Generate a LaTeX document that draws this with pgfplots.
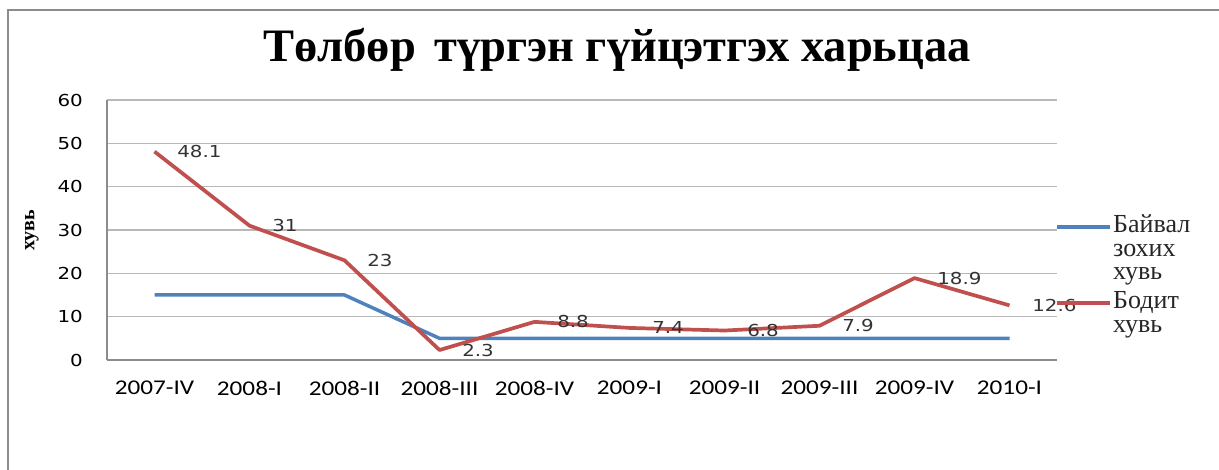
\documentclass[border=0pt]{standalone}
\usepackage{fontspec}
\setmainfont{Liberation Serif}
\newfontfamily\dvfont[FakeStretch=1.2]{DejaVu Sans}
\newfontfamily\calfont[FakeStretch=1.2]{Carlito}
\usepackage{pgfplots}
\pgfplotsset{compat=1.18}
\definecolor{sblue}{HTML}{4F81BD}
\definecolor{sred}{HTML}{C0504D}
\begin{document}
\begin{tikzpicture}[x=1pt,y=1pt]
\useasboundingbox (0,0) rectangle (1219,470);
\draw[black!45, line width=2pt] (8,-5) -- (8,460) -- (1225,460);
\node[font=\fontsize{46.5}{50}\selectfont\bfseries, anchor=base, inner sep=0pt] at (617,408) {Төлбөр\hspace{0.4em}түргэн гүйцэтгэх харьцаа};
\begin{axis}[at={(107pt,110pt)}, anchor=south west, scale only axis,
  width=950pt, height=260pt,
  xmin=-0.5, xmax=9.5, ymin=0, ymax=60,
  ytick={0,10,...,60}, xtick={0,...,9},
  xticklabels={2007-IV,2008-I,2008-II,2008-III,2008-IV,2009-I,2009-II,2009-III,2009-IV,2010-I},
  axis x line*=bottom, axis y line*=left,
  axis line style={black!45, line width=1.2pt},
  ymajorgrids, grid style={black!28, line width=1.2pt},
  major tick length=0pt,
  /pgf/number format/assume math mode=true,
  yticklabel style={font=\dvfont\fontsize{16.5}{18}\selectfont, anchor=east, inner sep=0pt, xshift=-24pt},
  xticklabel style={font=\calfont\fontsize{21}{24}\selectfont, anchor=north, inner sep=0pt, yshift=-21pt},
  ylabel={хувь},
  ylabel style={font=\bfseries\fontsize{20}{22}\selectfont, at={(axis description cs:-0.079,0.5)}, anchor=center},
]
\addplot[sblue, line width=3.5pt, line join=round] coordinates {
 (0,15) (1,15) (2,15) (3,5) (4,5) (5,5) (6,5) (7,5) (8,5) (9,5)};
\addplot[sred, line width=3.7pt, line join=round, nodes near coords, point meta=explicit symbolic,
  nodes near coords style={anchor=west, xshift=21pt, inner sep=0pt, text=black!80,
    font=\dvfont\fontsize{16.5}{18}\selectfont}] coordinates {
 (0,48.1) [48.1] (1,31) [31] (2,23) [23] (3,2.3) [2.3] (4,8.8) [8.8]
 (5,7.4) [7.4] (6,6.8) [6.8] (7,7.9) [7.9] (8,18.9) [18.9] (9,12.6) [12.6]};
\end{axis}
% legend
\draw[sblue, line width=3.5pt] (1057,243) -- (1110,243);
\node[anchor=base west, inner sep=0pt, align=left, text=black!85] at (1113,237)
  {\parbox[t]{100pt}{\fontsize{26}{23.5}\selectfont Байвал\\зохих\\хувь}};
\draw[sred, line width=3.5pt] (1057,167) -- (1110,167);
\node[anchor=base west, inner sep=0pt, align=left, text=black!85] at (1113,161)
  {\parbox[t]{100pt}{\fontsize{26}{23.5}\selectfont Бодит\\хувь}};
\end{tikzpicture}
\end{document}
